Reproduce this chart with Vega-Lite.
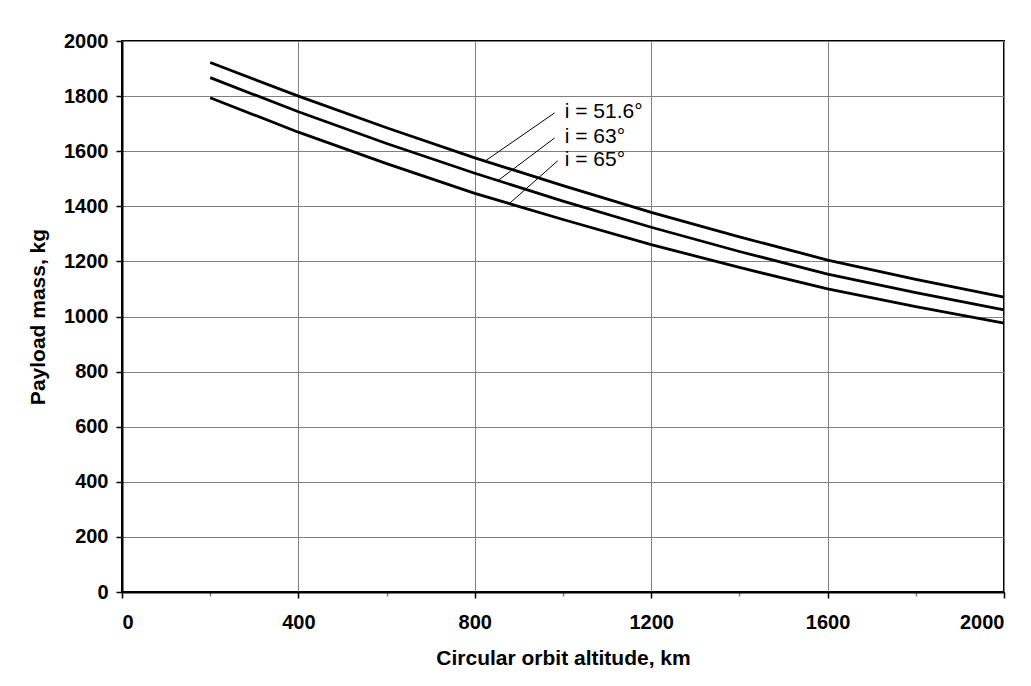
{
  "$schema": "https://vega.github.io/schema/vega-lite/v6.json",
  "width": 882,
  "height": 551,
  "autosize": {"type": "none"},
  "padding": {"left": 122, "top": 41, "right": 27, "bottom": 94},
  "background": "white",
  "config": {
    "font": "Liberation Sans",
    "view": {"stroke": "#000000", "strokeWidth": 2},
    "axis": {
      "domainColor": "#000000",
      "domainWidth": 2,
      "gridColor": "#808080",
      "gridWidth": 1,
      "labelFont": "Liberation Sans",
      "labelFontWeight": "bold",
      "labelFontSize": 20,
      "labelColor": "#000000",
      "titleFont": "Liberation Sans",
      "titleFontWeight": "bold",
      "titleFontSize": 21,
      "titleColor": "#000000"
    }
  },
  "datasets": {
    "curves": [
      {"series": "i = 51.6°", "alt": 200, "mass": 1922},
      {"series": "i = 51.6°", "alt": 400, "mass": 1800},
      {"series": "i = 51.6°", "alt": 600, "mass": 1685},
      {"series": "i = 51.6°", "alt": 800, "mass": 1576},
      {"series": "i = 51.6°", "alt": 1000, "mass": 1475},
      {"series": "i = 51.6°", "alt": 1200, "mass": 1378},
      {"series": "i = 51.6°", "alt": 1400, "mass": 1289},
      {"series": "i = 51.6°", "alt": 1600, "mass": 1205},
      {"series": "i = 51.6°", "alt": 1800, "mass": 1135},
      {"series": "i = 51.6°", "alt": 2000, "mass": 1070},
      {"series": "i = 63°", "alt": 200, "mass": 1867},
      {"series": "i = 63°", "alt": 400, "mass": 1743},
      {"series": "i = 63°", "alt": 600, "mass": 1628},
      {"series": "i = 63°", "alt": 800, "mass": 1520},
      {"series": "i = 63°", "alt": 1000, "mass": 1419},
      {"series": "i = 63°", "alt": 1200, "mass": 1324},
      {"series": "i = 63°", "alt": 1400, "mass": 1236},
      {"series": "i = 63°", "alt": 1600, "mass": 1154},
      {"series": "i = 63°", "alt": 1800, "mass": 1087},
      {"series": "i = 63°", "alt": 2000, "mass": 1024},
      {"series": "i = 65°", "alt": 200, "mass": 1794},
      {"series": "i = 65°", "alt": 400, "mass": 1669},
      {"series": "i = 65°", "alt": 600, "mass": 1555},
      {"series": "i = 65°", "alt": 800, "mass": 1447},
      {"series": "i = 65°", "alt": 1000, "mass": 1352},
      {"series": "i = 65°", "alt": 1200, "mass": 1261},
      {"series": "i = 65°", "alt": 1400, "mass": 1178},
      {"series": "i = 65°", "alt": 1600, "mass": 1100},
      {"series": "i = 65°", "alt": 1800, "mass": 1036},
      {"series": "i = 65°", "alt": 2000, "mass": 976}
    ],
    "labels": [
      {"label": "i = 51.6°", "tx": 1004, "ty": 1743, "x1": 981, "y1": 1739, "x2": 824, "y2": 1565},
      {"label": "i = 63°", "tx": 1004, "ty": 1652, "x1": 981, "y1": 1648, "x2": 854, "y2": 1495},
      {"label": "i = 65°", "tx": 1004, "ty": 1569, "x1": 988, "y1": 1565, "x2": 879, "y2": 1411}
    ]
  },
  "layer": [
    {
      "data": {"name": "curves"},
      "mark": {"type": "line", "color": "#000000", "strokeWidth": 2.8},
      "encoding": {
        "x": {
          "field": "alt",
          "type": "quantitative",
          "scale": {"domain": [0, 2000], "nice": false},
          "axis": {
            "title": "Circular orbit altitude, km",
            "values": [0, 200, 400, 600, 800, 1000, 1200, 1400, 1600, 1800, 2000],
            "labelExpr": "datum.value % 400 === 0 ? datum.label : ''",
            "format": "d",
            "tickSize": {"condition": {"test": "datum.value % 400 === 0", "value": 6}, "value": 4},
            "tickColor": {"condition": {"test": "datum.value % 400 === 0", "value": "#000000"}, "value": "#808080"},
            "tickWidth": 1.5,
            "gridOpacity": {"condition": {"test": "datum.value % 400 === 0", "value": 1}, "value": 0},
            "labelPadding": 14,
            "labelOverlap": false,
            "titlePadding": 15
          }
        },
        "y": {
          "field": "mass",
          "type": "quantitative",
          "scale": {"domain": [0, 2000], "nice": false},
          "axis": {
            "title": "Payload mass, kg",
            "values": [0, 100, 200, 300, 400, 500, 600, 700, 800, 900, 1000, 1100, 1200, 1300, 1400, 1500, 1600, 1700, 1800, 1900, 2000],
            "labelExpr": "datum.value % 200 === 0 ? datum.label : ''",
            "format": "d",
            "tickSize": {"condition": {"test": "datum.value % 200 === 0", "value": 6}, "value": 5},
            "tickColor": {"condition": {"test": "datum.value % 200 === 0", "value": "#000000"}, "value": "#808080"},
            "tickWidth": 1.5,
            "gridOpacity": {"condition": {"test": "datum.value % 200 === 0", "value": 1}, "value": 0},
            "labelPadding": 8,
            "labelOverlap": false,
            "titlePadding": 15
          }
        },
        "detail": {"field": "series", "type": "nominal"}
      }
    },
    {
      "data": {"name": "labels"},
      "mark": {"type": "rule", "color": "#000000", "strokeWidth": 1},
      "encoding": {
        "x": {"field": "x1", "type": "quantitative"},
        "y": {"field": "y1", "type": "quantitative"},
        "x2": {"field": "x2"},
        "y2": {"field": "y2"}
      }
    },
    {
      "data": {"name": "labels"},
      "mark": {"type": "text", "align": "left", "baseline": "middle", "fontSize": 21, "font": "Liberation Sans", "color": "#000000"},
      "encoding": {
        "x": {"field": "tx", "type": "quantitative"},
        "y": {"field": "ty", "type": "quantitative"},
        "text": {"field": "label"}
      }
    }
  ]
}
